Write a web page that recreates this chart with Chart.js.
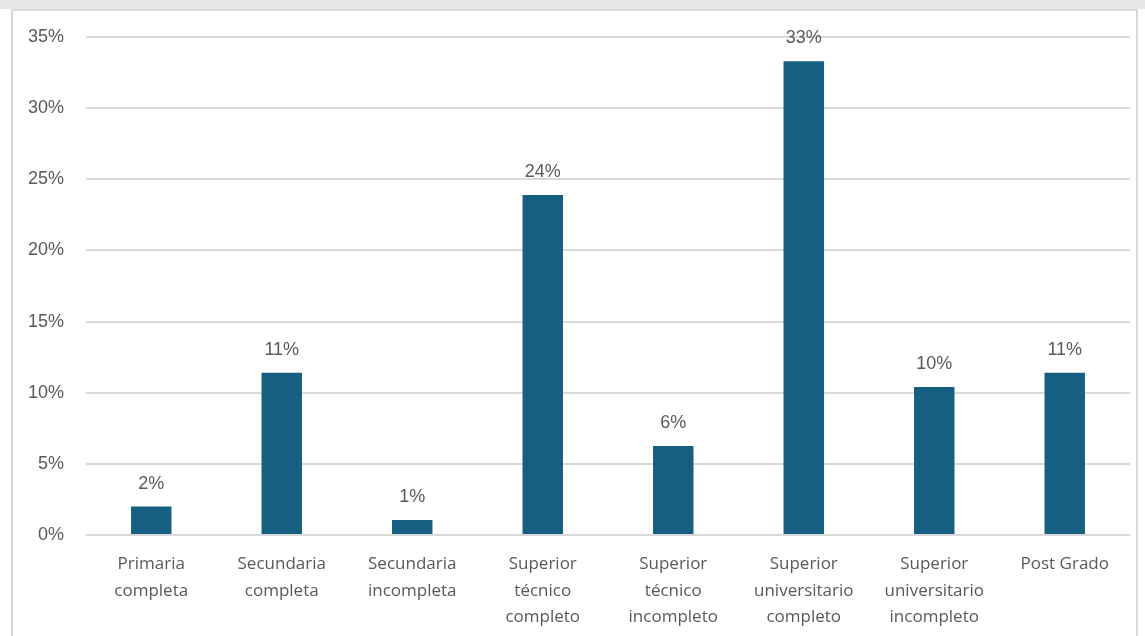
<!DOCTYPE html>
<html>
<head>
<meta charset="utf-8">
<script src="https://cdn.jsdelivr.net/npm/chart.js@4"></script>
<style>
  html, body { margin: 0; padding: 0; background: #fff; }
  #strip { position: absolute; left: 0; top: 0; width: 1145px; height: 9px; background: #e6e8e6; }
  #frame { position: absolute; left: 11px; top: 9px; width: 1127px; height: 640px; border: 2px solid #d9d9d9; box-sizing: border-box; }
  #wrap { position: absolute; left: 0; top: 0; width: 1145px; height: 636px; }
</style>
</head>
<body>
<div id="strip"></div>
<div id="frame"></div>
<div id="wrap"><canvas id="chart" width="1145" height="636"></canvas></div>
<script>
const categories = [
	['Primaria', 'completa'],
	['Secundaria', 'completa'],
	['Secundaria', 'incompleta'],
	['Superior', 'técnico', 'completo'],
	['Superior', 'técnico', 'incompleto'],
	['Superior', 'universitario', 'completo'],
	['Superior', 'universitario', 'incompleto'],
	['Post Grado']
];
const values = [2.0, 11.4, 1.05, 23.9, 6.26, 33.3, 10.4, 11.4];
const valueLabels = ['2%', '11%', '1%', '24%', '6%', '33%', '10%', '11%'];

const barColor = '#156082';
const textColor = '#595959';
const gridColor = '#d9d9d9';

const valueLabelPlugin = {
	id: 'valueLabels',
	afterDatasetsDraw(chart) {
		const ctx = chart.ctx;
		const meta = chart.getDatasetMeta(0);
		ctx.save();
		ctx.fillStyle = textColor;
		ctx.font = '18px "Liberation Sans", Arial, sans-serif';
		ctx.textAlign = 'center';
		ctx.textBaseline = 'bottom';
		meta.data.forEach((bar, i) => {
			ctx.fillText(valueLabels[i], bar.x, bar.y - 14);
		});
		ctx.restore();
	}
};

new Chart(document.getElementById('chart'), {
	type: 'bar',
	data: {
		labels: categories,
		datasets: [{
			data: values,
			backgroundColor: barColor,
			categoryPercentage: 1,
			barPercentage: 0.31
		}]
	},
	options: {
		responsive: false,
		animation: false,
		layout: { padding: { left: 20, top: 37, right: 15, bottom: 0 } },
		plugins: {
			legend: { display: false },
			tooltip: { enabled: false }
		},
		scales: {
			x: {
				grid: { display: false, drawTicks: false },
				border: { display: false },
				ticks: {
					color: textColor,
					padding: 16,
					maxRotation: 0,
					autoSkip: false,
					font: { family: '"Open Sans", sans-serif', size: 17, lineHeight: 1.56 }
				},
				afterFit(scale) { scale.height = 101; }
			},
			y: {
				min: 0,
				max: 35,
				grid: { color: gridColor, lineWidth: 2, drawTicks: false },
				border: { display: false },
				ticks: {
					stepSize: 5,
					color: textColor,
					padding: 22,
					font: { family: '"Liberation Sans", Arial, sans-serif', size: 18 },
					callback: v => v + '%'
				},
				afterFit(scale) { scale.width = 66; }
			}
		}
	},
	plugins: [valueLabelPlugin]
});
</script>
</body>
</html>
